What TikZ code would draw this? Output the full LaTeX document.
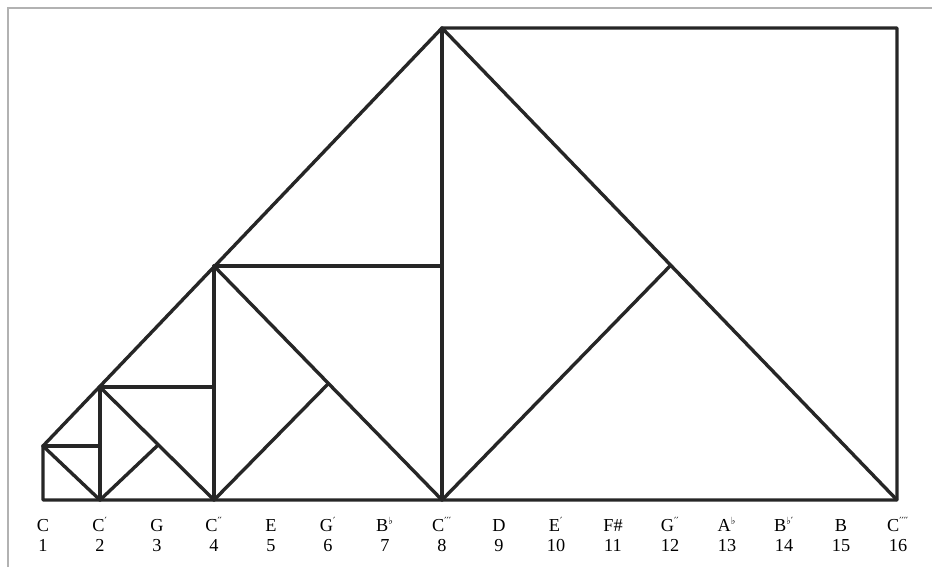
\documentclass[tikz,border=0pt]{standalone}
\usepackage{fontspec}
\setmainfont{Liberation Serif}
\newfontfamily\symfont{DejaVu Serif}
\newcommand{\mk}[1]{\textsuperscript{\symfont\scriptsize #1}}
\tikzset{
  edge/.style={line width=2.4pt, black!85, line cap=round, line join=round},
  note/.style={anchor=base, inner sep=0pt, font=\fontsize{13}{15}\selectfont},
}
\begin{document}
\begin{tikzpicture}[x=0.025cm, y=-0.025cm]
\useasboundingbox (0,0) rectangle (932,567);
\draw[black!30, line width=1.2pt] (8,567) -- (8,8) -- (932,8);
% points on the base line
\coordinate (b1) at (43,500);
\coordinate (b2) at (100,500);
\coordinate (b4) at (214,500);
\coordinate (b8) at (442,500);
\coordinate (b16) at (897,500);
% tops of the verticals
\coordinate (t1) at (43,446);
\coordinate (t2) at (100,387);
\coordinate (t4) at (214,266);
\coordinate (t8) at (442,28);
\coordinate (t16) at (897,28);
% where the inner squares meet
\coordinate (m3) at (157,446);
\coordinate (m6) at (328,384);
\coordinate (m12) at (670,266);
% outline and verticals
\draw[edge] (b1) -- (b16) -- (t16) -- (t8) -- (t1) -- (b1);
\draw[edge] (b2) -- (t2);
\draw[edge] (b4) -- (t4);
\draw[edge] (b8) -- (t8);
% horizontals
\draw[edge] (t1) -- (t1 -| b2);
\draw[edge] (t2) -- (t2 -| b4);
\draw[edge] (t4) -- (t4 -| b8);
% diagonals going down
\draw[edge] (t1) -- (b2);
\draw[edge] (t2) -- (b4);
\draw[edge] (t4) -- (b8);
\draw[edge] (t8) -- (b16);
% diagonals going up
\draw[edge] (b2) -- (m3);
\draw[edge] (b4) -- (m6);
\draw[edge] (b8) -- (m12);
% note names
\node[note] (n1) at (43,531) {C};
\node[note] (n2) at (100,531) {C\mk{′}};
\node[note] (n3) at (157,531) {G};
\node[note] (n4) at (214,531) {C\mk{′′}};
\node[note] (n5) at (271,531) {E};
\node[note] (n6) at (328,531) {G\mk{′}};
\node[note] (n7) at (385,531) {B\mk{♭}};
\node[note] (n8) at (442,531) {C\mk{′′′}};
\node[note] (n9) at (499,531) {D};
\node[note] (n10) at (556,531) {E\mk{′}};
\node[note] (n11) at (613,531) {F\#};
\node[note] (n12) at (670,531) {G\mk{′′}};
\node[note] (n13) at (727,531) {A\mk{♭}};
\node[note] (n14) at (784,531) {B\mk{♭′}};
\node[note] (n15) at (841,531) {B};
\node[note] (n16) at (898,531) {C\mk{′′′′}};
% numbers
\node[note] (k1) at (43,551) {1};
\node[note] (k2) at (100,551) {2};
\node[note] (k3) at (157,551) {3};
\node[note] (k4) at (214,551) {4};
\node[note] (k5) at (271,551) {5};
\node[note] (k6) at (328,551) {6};
\node[note] (k7) at (385,551) {7};
\node[note] (k8) at (442,551) {8};
\node[note] (k9) at (499,551) {9};
\node[note] (k10) at (556,551) {10};
\node[note] (k11) at (613,551) {11};
\node[note] (k12) at (670,551) {12};
\node[note] (k13) at (727,551) {13};
\node[note] (k14) at (784,551) {14};
\node[note] (k15) at (841,551) {15};
\node[note] (k16) at (898,551) {16};
\end{tikzpicture}
\end{document}
